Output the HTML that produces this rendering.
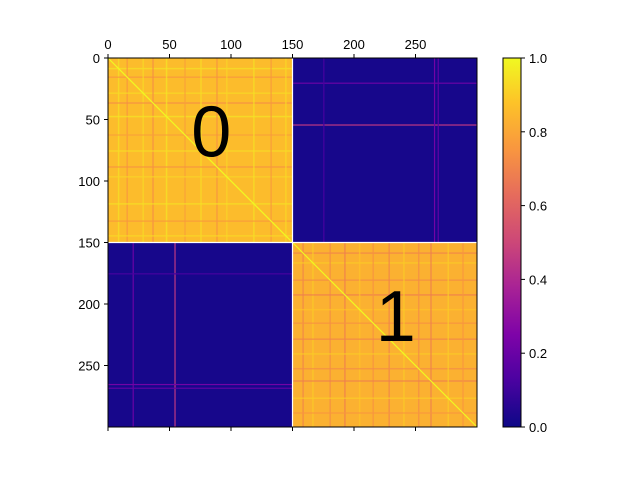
<!DOCTYPE html>
<html><head><meta charset="utf-8"><style>
body{margin:0;background:#fff;}
svg{font-family:"Liberation Sans",sans-serif;}
</style></head><body>
<svg id="chart" width="640" height="480">
<defs>
<linearGradient id="plasma" x1="0" y1="1" x2="0" y2="0">
<stop offset="0" stop-color="#0d0887"/><stop offset="0.13" stop-color="#4c02a1"/>
<stop offset="0.25" stop-color="#7e03a8"/><stop offset="0.38" stop-color="#a92395"/>
<stop offset="0.5" stop-color="#cc4778"/><stop offset="0.63" stop-color="#e66c5c"/>
<stop offset="0.75" stop-color="#f89540"/><stop offset="0.88" stop-color="#fdc328"/>
<stop offset="1" stop-color="#f0f921"/></linearGradient>
</defs>
<g id="plot"></g>
</svg>
<script>
const blockLabels=["0","1"];
const blockStarts=[0,150];
const blockEnds=[150,300];
const blockValues=[[0.86,0.02],[0.02,0.83]];
const stripeIndices=[54,20,265,268,175];
const stripeValues=[0.45,0.2,0.22,0.18,0.12];
const innerIndices=[8,15,28,36,47,62,75,88,96,118,132,144,158,166,180,192,204,215,228,240,252,262,276,288];
const innerValues=[0.95,0.75,0.93,0.72,0.96,0.78,0.94,0.74,0.92,0.95,0.76,0.93,0.7,0.9,0.72,0.68,0.88,0.74,0.7,0.9,0.72,0.68,0.9,0.75];
const yTicks=[0,50,100,150,200,250];
const xTicks=[0,50,100,150,200,250];
const cbTicks=[0.0,0.2,0.4,0.6,0.8,1.0];
const N=300,X0=108,Y0=58,S=369;
const sx=i=>X0+i*S/N, sy=i=>Y0+i*S/N;
const stops=[[0,[13,8,135]],[0.13,[76,2,161]],[0.25,[126,3,168]],[0.38,[169,35,149]],[0.5,[204,71,120]],[0.63,[230,108,92]],[0.75,[248,149,64]],[0.88,[253,195,40]],[1,[240,249,33]]];
function cmap(v){for(let k=1;k<stops.length;k++){if(v<=stops[k][0]){const a=stops[k-1],b=stops[k],t=(v-a[0])/(b[0]-a[0]);return 'rgb('+a[1].map((c,i)=>Math.round(c+(b[1][i]-c)*t)).join(',')+')';}}return 'rgb(240,249,33)';}
const g=document.getElementById('plot');const NS='http://www.w3.org/2000/svg';
function el(t,a,p){const e=document.createElementNS(NS,t);for(const k in a)e.setAttribute(k,a[k]);(p||g).appendChild(e);return e;}
for(let r=0;r<2;r++)for(let c=0;c<2;c++){
const e=el('rect',{x:sx(blockStarts[c]),y:sy(blockStarts[r]),width:sx(blockEnds[c])-sx(blockStarts[c]),height:sy(blockEnds[r])-sy(blockStarts[r]),fill:cmap(blockValues[r][c])});

}
innerIndices.forEach((s,k)=>{
const b=s<150?0:1;
const h=el('rect',{x:sx(blockStarts[b]),y:sy(s),width:sx(blockEnds[b])-sx(blockStarts[b]),height:1.5,fill:cmap(innerValues[k]),opacity:0.7});


const v=el('rect',{x:sx(s),y:sy(blockStarts[b]),width:1.5,height:sy(blockEnds[b])-sy(blockStarts[b]),fill:cmap(innerValues[k]),opacity:0.7});

});
stripeIndices.forEach((s,k)=>{
const own=s<150?0:1,oth=1-own;
const h=el('rect',{x:sx(blockStarts[oth]),y:sy(s),width:sx(blockEnds[oth])-sx(blockStarts[oth]),height:1.2,fill:cmap(stripeValues[k])});


const v=el('rect',{x:sx(s),y:sy(blockStarts[oth]),width:1.2,height:sy(blockEnds[oth])-sy(blockStarts[oth]),fill:cmap(stripeValues[k])});

});
const d=el('line',{x1:sx(0),y1:sy(0),x2:sx(N),y2:sy(N),stroke:cmap(1),'stroke-width':1.2});


el('line',{x1:sx(0),y1:sy(150),x2:sx(N),y2:sy(150),stroke:'#fff','stroke-width':1.2});
el('line',{x1:sx(150),y1:sy(0),x2:sx(150),y2:sy(N),stroke:'#fff','stroke-width':1.2});
blockLabels.forEach((l,i)=>{const m=(blockStarts[i]+blockEnds[i])/2;
const t=el('text',{x:sx(m)+11,y:sy(m)+6,'font-size':72,'text-anchor':'middle',fill:'#000'});t.textContent=l;

});
const fr=el('rect',{x:X0,y:Y0,width:S,height:S,fill:'none',stroke:'#000','stroke-width':1});


xTicks.forEach(v=>{el('line',{x1:sx(v),y1:Y0,x2:sx(v),y2:Y0-4,stroke:'#000'});el('line',{x1:sx(v),y1:Y0+S,x2:sx(v),y2:Y0+S+4,stroke:'#000'});
const t=el('text',{x:sx(v),y:Y0-9,'font-size':13,'text-anchor':'middle'});t.textContent=v;

});
yTicks.forEach(v=>{el('line',{x1:X0,y1:sy(v),x2:X0-4,y2:sy(v),stroke:'#000'});
const t=el('text',{x:X0-8,y:sy(v)+5,'font-size':13,'text-anchor':'end'});t.textContent=v;

});
const CX=503,CW=18,CY0=427,CH=369;
const cb=el('rect',{x:CX,y:Y0,width:CW,height:CH,fill:'url(#plasma)',stroke:'#000','stroke-width':1});


cbTicks.forEach(v=>{const y=CY0-v*CH;el('line',{x1:CX+CW,y1:y,x2:CX+CW+4,y2:y,stroke:'#000'});
const t=el('text',{x:CX+CW+8,y:y+5,'font-size':13});t.textContent=v.toFixed(1);

});
</script>
</body></html>
